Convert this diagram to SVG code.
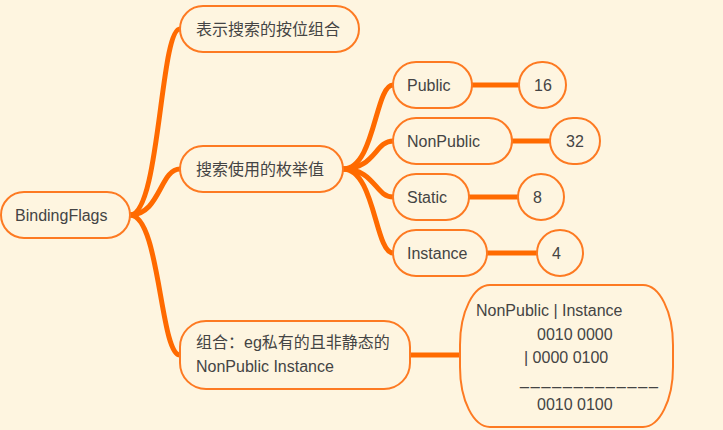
<svg xmlns="http://www.w3.org/2000/svg" width="723" height="430" viewBox="0 0 723 430">
<style>
.n{fill:#fef5e0;stroke:#fd7a22;stroke-width:2}
.t{font-family:"Liberation Sans","Noto Sans CJK SC",sans-serif;font-size:16px;fill:#444}
.c{fill:none;stroke:#ff6a00;stroke-width:5;stroke-linecap:round}
</style>
<rect width="723" height="430" fill="#fef5e0"/>
<g id="connectors">
<path class="c" d="M130 215 C160 215 160 29 180 29"/>
<path class="c" d="M130 215 C160 215 160 169 180 169"/>
<path class="c" d="M130 215 C160 215 160 355 180 355"/>
<path class="c" d="M343 169 C375 169 375 85 393 85"/>
<path class="c" d="M343 169 C375 169 375 141 393 141"/>
<path class="c" d="M343 169 C375 169 375 197 393 197"/>
<path class="c" d="M343 169 C375 169 375 253 393 253"/>
<path class="c" d="M472 85 H519"/>
<path class="c" d="M512 141 H550"/>
<path class="c" d="M469 197 H518"/>
<path class="c" d="M487 253 H537"/>
<path class="c" d="M410 355 H460"/>
</g>
<g id="root"><rect class="n" x="1" y="192" width="129" height="46" rx="23"/><text class="t" x="15" y="221">BindingFlags</text></g>
<g id="n1"><rect class="n" x="180" y="6" width="179" height="46" rx="23"/><text class="t" x="196" y="35">表示搜索的按位组合</text></g>
<g id="n2"><rect class="n" x="180" y="146" width="163" height="46" rx="23"/><text class="t" x="196" y="175">搜索使用的枚举值</text></g>
<g id="n3"><rect class="n" x="180" y="321" width="230" height="68" rx="26"/><text class="t" x="196" y="348">组合：eg私有的且非静态的</text><text class="t" x="196" y="372">NonPublic Instance</text></g>
<g id="public"><rect class="n" x="393" y="62" width="79" height="46" rx="23"/><text class="t" x="407" y="91">Public</text></g>
<g id="v16"><rect class="n" x="519" y="62" width="47" height="46" rx="23"/><text class="t" x="534" y="91">16</text></g>
<g id="nonpublic"><rect class="n" x="393" y="118" width="119" height="46" rx="23"/><text class="t" x="407" y="147">NonPublic</text></g>
<g id="v32"><rect class="n" x="550" y="118" width="50" height="46" rx="23"/><text class="t" x="566" y="147">32</text></g>
<g id="static"><rect class="n" x="393" y="174" width="76" height="46" rx="23"/><text class="t" x="407" y="203">Static</text></g>
<g id="v8"><rect class="n" x="518" y="174" width="46" height="46" rx="23"/><text class="t" x="533" y="203">8</text></g>
<g id="instance"><rect class="n" x="393" y="230" width="94" height="46" rx="23"/><text class="t" x="407" y="259">Instance</text></g>
<g id="v4"><rect class="n" x="537" y="230" width="46" height="46" rx="23"/><text class="t" x="552" y="259">4</text></g>
<g id="calc"><rect class="n" x="460" y="285" width="213" height="142" rx="30" ry="60"/>
<text class="t" x="476" y="316">NonPublic | Instance</text>
<text class="t" x="537" y="340">0010 0000</text>
<text class="t" x="524" y="363">| 0000 0100</text>
<text class="t" x="520" y="385" textLength="138">_____________</text>
<text class="t" x="537" y="410">0010 0100</text></g>
</svg>
